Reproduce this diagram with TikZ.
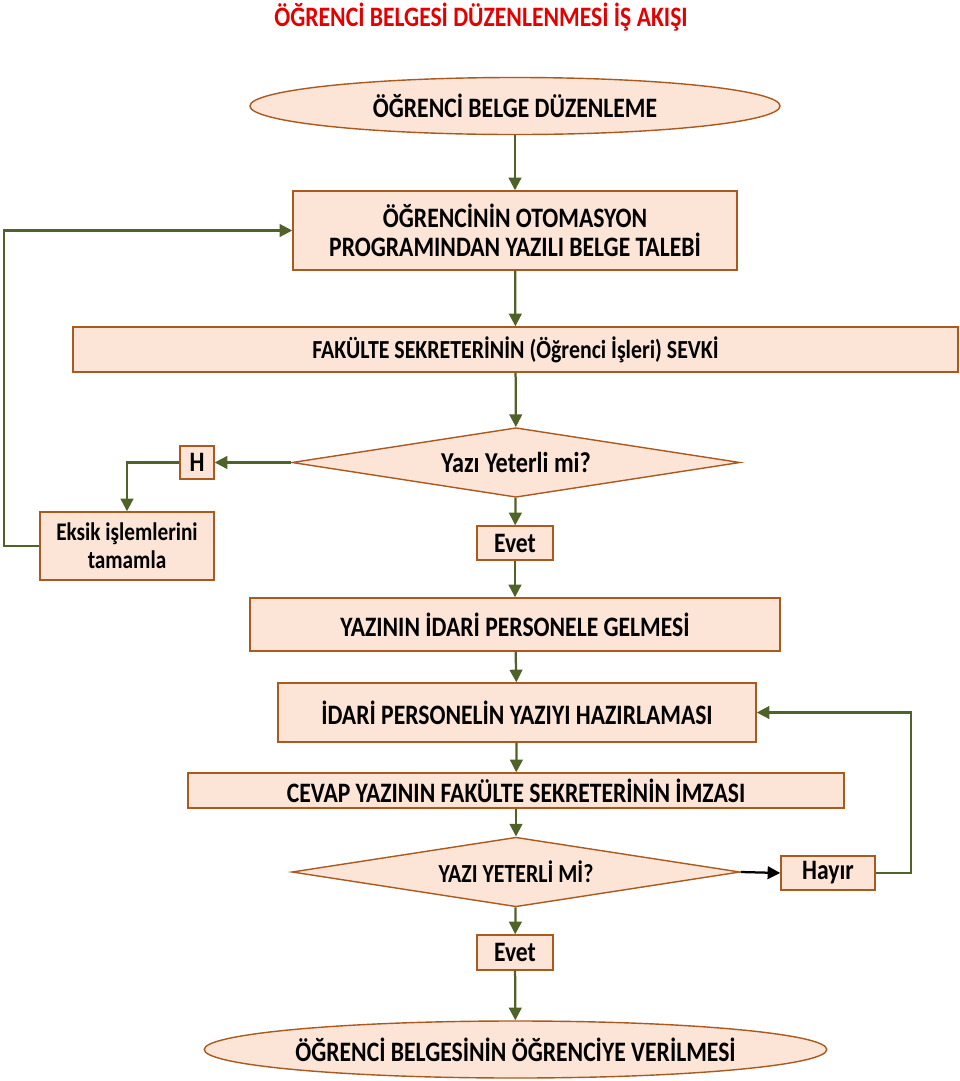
\documentclass[tikz,border=0pt]{standalone}
\usepackage{fontspec}
\setmainfont{Carlito}[FakeStretch=0.84]
\usetikzlibrary{shapes.geometric, arrows.meta}
\definecolor{dolgu}{RGB}{252,228,214}
\definecolor{kenar}{RGB}{170,90,30}
\definecolor{okrenk}{RGB}{79,98,40}
\definecolor{baslikrenk}{RGB}{228,0,0}
\newcommand{\yazi}[2]{\fontsize{#1}{#2}\selectfont\bfseries}

\begin{document}
\begin{tikzpicture}[x=0.025cm,y=-0.025cm,
  kutu/.style={draw=kenar,fill=dolgu,line width=1pt,inner sep=2pt,align=center,font=\yazi{20}{20.5}},
  elips/.style={kutu,ellipse,inner sep=0pt},
  karar/.style={kutu,diamond,shape aspect=6.5,inner sep=0pt,minimum width=11.2cm,minimum height=1.74cm},
  akis/.style={okrenk,line width=1.6pt,-{Triangle[length=9pt,width=9pt]}}]
\useasboundingbox (0,0) rectangle (960,1081);
\node[text=baslikrenk,font=\yazi{20}{20.5}] (baslik) at (481,17) {ÖĞRENCİ BELGESİ DÜZENLENMESİ İŞ AKIŞI};
\node[elips,minimum width=13.25cm,minimum height=1.425cm] (bas) at (515,106) {ÖĞRENCİ BELGE DÜZENLEME};
\node[kutu,minimum width=11.1cm,minimum height=1.975cm] (talep) at (515,230.5) {ÖĞRENCİNİN OTOMASYON\\PROGRAMINDAN YAZILI BELGE TALEBİ};
\node[kutu,minimum width=22.125cm,minimum height=1.125cm,font=\yazi{18.5}{20.5}] (sevk) at (515.5,349.5) {FAKÜLTE SEKRETERİNİN (Öğrenci İşleri) SEVKİ};
\node[karar,font=\yazi{20.5}{20.5}] (karar1) at (516,462.5) {Yazı Yeterli mi?};
\node[kutu,minimum width=0.85cm,minimum height=0.825cm] (h) at (197,462.5) {H};
\node[kutu,minimum width=4.35cm,minimum height=1.7cm,font=\yazi{18}{20}] (eksik) at (127,546) {Eksik işlemlerini\\tamamla};
\node[kutu,minimum width=1.9cm,minimum height=0.85cm] (evet1) at (515,543) {Evet};
\node[kutu,minimum width=13.25cm,minimum height=1.325cm] (gelme) at (515,624.5) {YAZININ İDARİ PERSONELE GELMESİ};
\node[kutu,minimum width=11.95cm,minimum height=1.475cm] (hazir) at (517,712.5) {İDARİ PERSONELİN YAZIYI HAZIRLAMASI};
\node[kutu,minimum width=16.4cm,minimum height=0.875cm] (imza) at (516,790.5) {CEVAP YAZININ FAKÜLTE SEKRETERİNİN İMZASI};
\node[karar,font=\yazi{18.5}{20.5}] (karar2) at (516,872) {YAZI YETERLİ Mİ?};
\node[kutu,minimum width=2.35cm,minimum height=0.85cm] (hayir) at (828,873) {Hayır};
\node[kutu,minimum width=1.9cm,minimum height=0.875cm] (evet2) at (515,952.5) {Evet};
\node[elips,minimum width=15.475cm,minimum height=1.425cm] (son) at (515.5,1049.5) {ÖĞRENCİ BELGESİNİN ÖĞRENCİYE VERİLMESİ};
\draw[akis] (bas) -- (talep);
\draw[akis] (talep) -- (sevk);
\draw[akis] (sevk) -- (karar1);
\draw[akis] (karar1) -- (h);
\draw[akis] (h.west) -| (eksik.north);
\draw[akis] (eksik.west) -- ++(-35,0) |- (talep.west);
\draw[akis] (karar1) -- (evet1);
\draw[akis] (evet1) -- (gelme);
\draw[akis] (gelme) -- (hazir);
\draw[akis] (hazir) -- (imza);
\draw[akis] (imza) -- (karar2);
\draw[akis,black] (karar2.east) -- (hayir.west);
\draw[akis] (hayir.east) -- ++(35,0) |- (hazir.east);
\draw[akis] (karar2) -- (evet2);
\draw[akis] (evet2) -- (son);
\end{tikzpicture}
\end{document}
